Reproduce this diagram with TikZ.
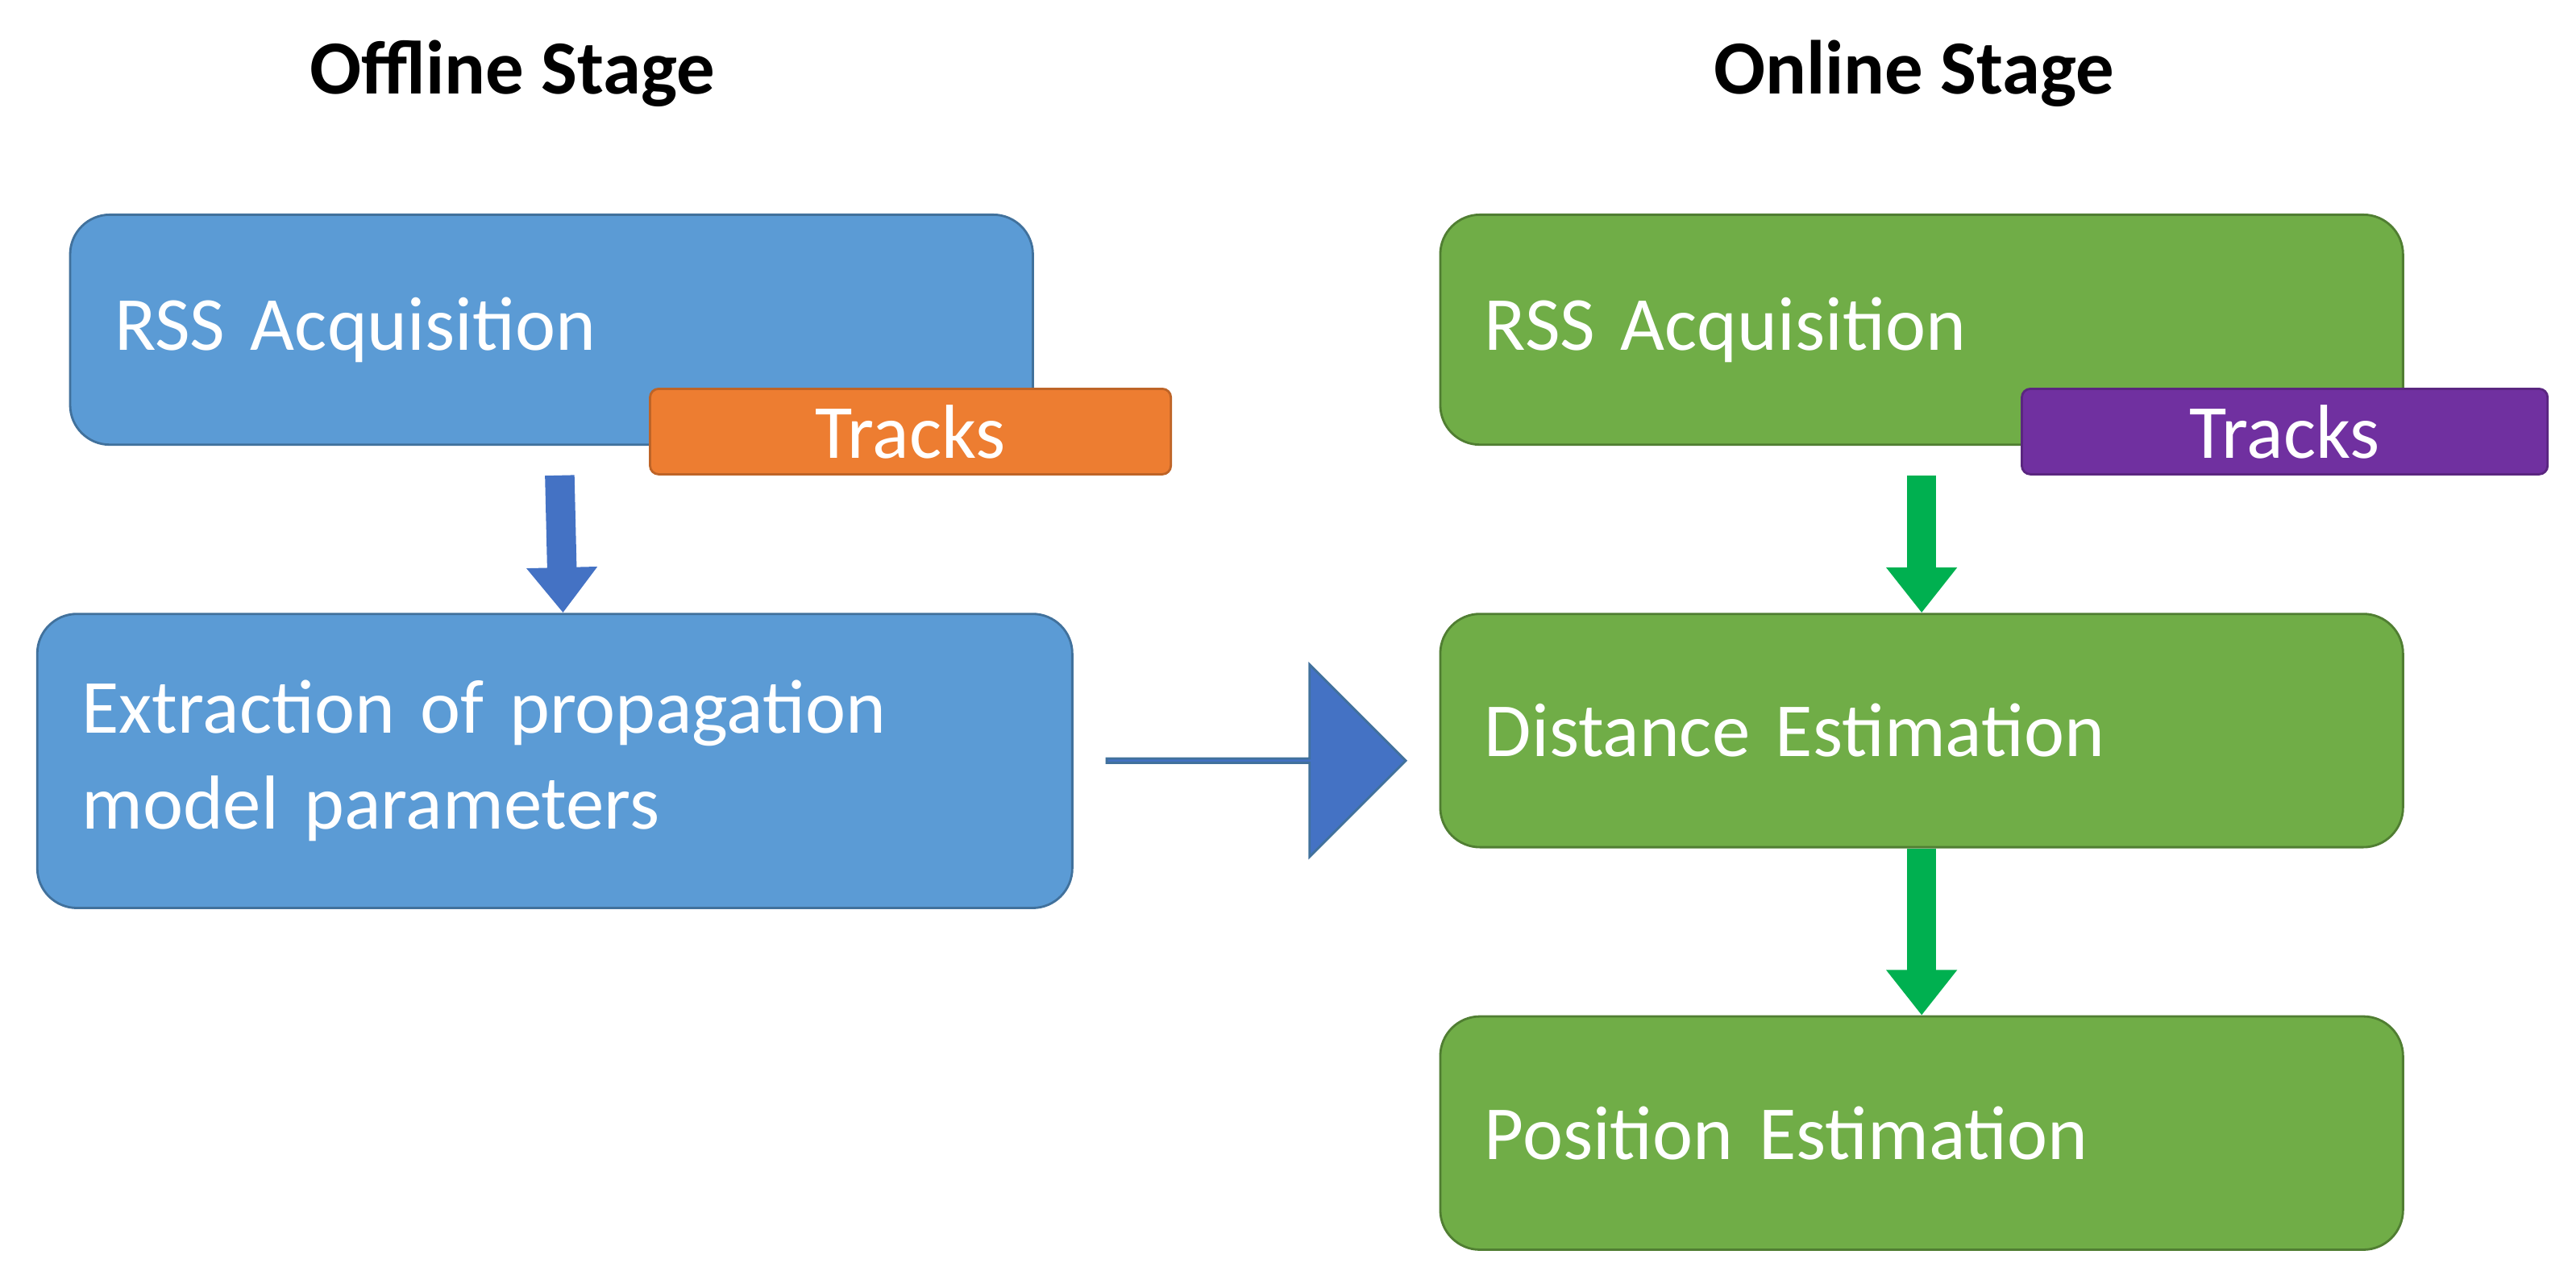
\documentclass[tikz,border=0pt]{standalone}
\usepackage{fontspec}
\setmainfont{Carlito}
\usetikzlibrary{shapes.arrows,arrows.meta}

\definecolor{offblue}{HTML}{5B9BD5}
\definecolor{offedge}{HTML}{41719C}
\definecolor{trackorange}{HTML}{ED7D31}
\definecolor{ongreen}{HTML}{70AD47}
\definecolor{onedge}{HTML}{507E32}
\definecolor{trackpurple}{HTML}{7030A0}
\definecolor{arrowblue}{HTML}{4472C4}
\definecolor{arrowgreen}{HTML}{00B050}

\tikzset{
  stage/.style={font=\fontsize{27}{32}\selectfont\bfseries},
  stagebox/.style={rectangle, rounded corners=14pt, line width=0.8pt, anchor=north west,
    font=\fontsize{27}{34}\selectfont, text=white, align=left, inner xsep=0.55cm},
  offstep/.style={stagebox, fill=offblue, draw=offedge},
  onstep/.style={stagebox, fill=ongreen, draw=onedge},
  tag/.style={rectangle, rounded corners=3pt, line width=0.8pt, anchor=north west,
    font=\fontsize{27}{32}\selectfont, text=white, inner sep=0pt},
  flow/.style={line width=10.4pt, -{Triangle[width=24pt, length=16pt]}}
}

\begin{document}
\begin{tikzpicture}[x=0.02038cm, y=-0.02038cm]
\useasboundingbox (0,0) rectangle (1568,784);
% titles
\node[stage] (offtitle) at (312,45) {Offline Stage};
\node[stage] (ontitle) at (1165,45) {Online Stage};
% offline stage
\node[offstep, minimum width=586*0.02038cm, minimum height=140*0.02038cm, text width=586*0.02038cm-1.1cm] (offrss) at (42,130) {RSS Acquisition};
\node[tag, fill=trackorange, draw=trackorange!80!black, minimum width=317*0.02038cm, minimum height=52*0.02038cm] (offtracks) at (395,236) {Tracks};
\node[offstep, minimum width=630*0.02038cm, minimum height=179*0.02038cm, text width=630*0.02038cm-1.1cm] (offparam) at (22,373) {Extraction of propagation\\model parameters};
\draw[flow, draw=arrowblue] ([xshift=5*0.02038cm]offrss.south |- offtracks.south) -- ([xshift=5*0.02038cm]offparam.north);
% online stage
\node[onstep, minimum width=586*0.02038cm, minimum height=140*0.02038cm, text width=586*0.02038cm-1.1cm] (onrss) at (876,130) {RSS Acquisition};
\node[tag, fill=trackpurple, draw=trackpurple!80!black, minimum width=320*0.02038cm, minimum height=52*0.02038cm] (ontracks) at (1230,236) {Tracks};
\node[onstep, minimum width=586*0.02038cm, minimum height=142*0.02038cm, text width=586*0.02038cm-1.1cm] (ondist) at (876,373) {Distance Estimation};
\node[onstep, minimum width=586*0.02038cm, minimum height=142*0.02038cm, text width=586*0.02038cm-1.1cm] (onpos) at (876,618) {Position Estimation};
\draw[flow, draw=arrowgreen] (onrss.south |- ontracks.south) -- (ondist.north);
\draw[flow, draw=arrowgreen] (ondist.south) -- (onpos.north);
% transfer
\node[single arrow, fill=arrowblue, draw=offedge, line width=0.8pt, inner sep=0pt,
  minimum height=182*0.02038cm, minimum width=117*0.02038cm, single arrow head extend=30*0.02038cm,
  single arrow tip angle=90] (transfer) at (764,463) {};
\end{tikzpicture}
\end{document}
